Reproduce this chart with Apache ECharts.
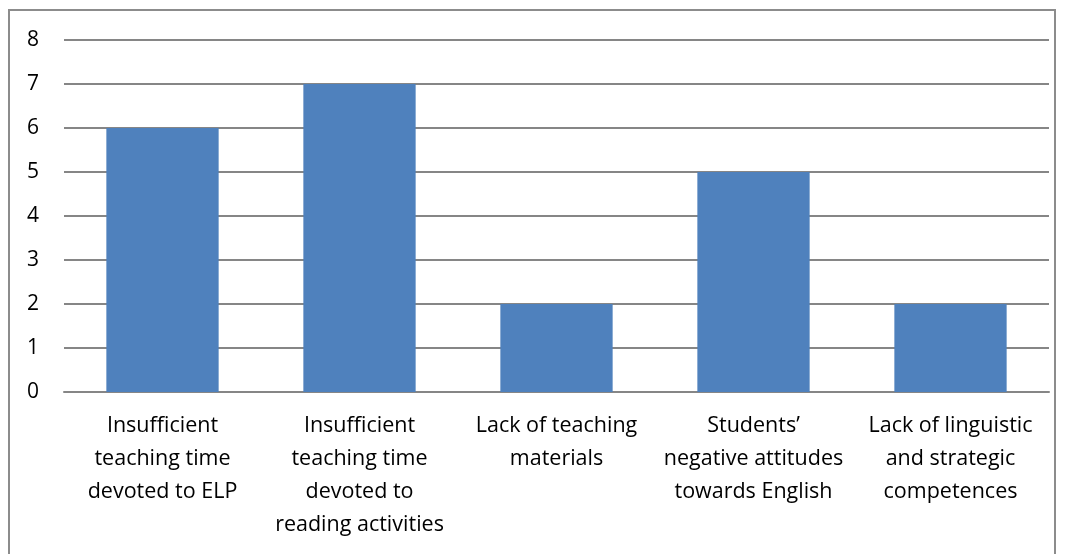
<!DOCTYPE html>
<html>
<head>
<meta charset="utf-8">
<script src="https://cdn.jsdelivr.net/npm/echarts@6/dist/echarts.min.js"></script>
<style>
html,body{margin:0;padding:0;background:#fff;}
#wrap{position:relative;width:1067px;height:554px;overflow:hidden;}
#frame{position:absolute;left:8px;top:9px;width:1048px;height:560px;border:2px solid #8c8c8c;box-sizing:border-box;}
#chart{position:absolute;left:0;top:0;width:1067px;height:554px;}
</style>
</head>
<body>
<div id="wrap"><div id="frame"></div><div id="chart"></div></div>
<script>
const categories = [
  "Insufficient\nteaching time\ndevoted to ELP",
  "Insufficient\nteaching time\ndevoted to\nreading activities",
  "Lack of teaching\nmaterials",
  "Students’\nnegative attitudes\ntowards English",
  "Lack of linguistic\nand strategic\ncompetences"
];
const values = [6, 7, 2, 5, 2];
const yTicks = [0, 1, 2, 3, 4, 5, 6, 7, 8];

const chart = echarts.init(document.getElementById('chart'));
chart.setOption({
  animation: false,
  grid: {left: 64, right: 18, top: 40, bottom: 162},
  xAxis: {
    type: 'category',
    data: categories,
    axisLine: {show: true, lineStyle: {color: '#868686', width: 2}},
    axisTick: {show: false},
    axisLabel: {
      interval: 0, color: '#000', fontFamily: 'Open Sans', fontSize: 21.5,
      lineHeight: 33, margin: 17, align: 'center'
    }
  },
  yAxis: {
    type: 'value', min: yTicks[0], max: yTicks[yTicks.length - 1], interval: 1,
    axisLine: {show: false}, axisTick: {show: false},
    axisLabel: {color: '#000', fontFamily: 'Open Sans', fontSize: 21, margin: 25},
    splitLine: {lineStyle: {color: '#868686', width: 2}}
  },
  series: [{
    type: 'bar',
    data: values,
    barCategoryGap: '43%',
    itemStyle: {color: '#4F81BD'}
  }]
});
</script>
</body>
</html>
